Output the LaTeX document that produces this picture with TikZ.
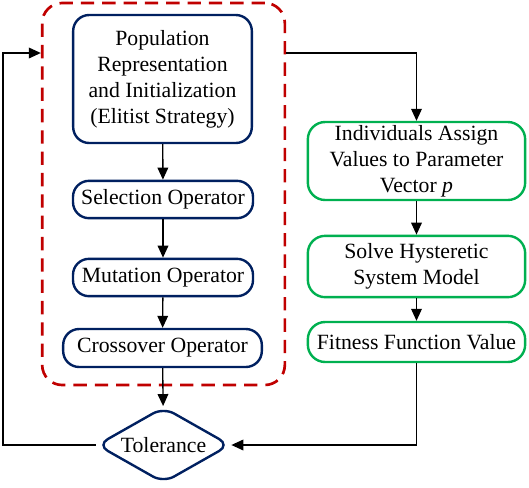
\documentclass[tikz,border=0pt]{standalone}
\usepackage{fontspec}
\setmainfont{Liberation Serif}
\usetikzlibrary{arrows.meta,shapes.geometric}
\definecolor{navyline}{RGB}{0,32,96}
\definecolor{greenline}{RGB}{0,176,80}
\definecolor{redline}{RGB}{192,0,0}
\tikzset{
  gastep/.style={draw=navyline,line width=1.8pt,rounded corners=12pt,align=center,inner sep=2pt},
  evalstep/.style={draw=greenline,line width=1.8pt,rounded corners=13pt,align=center,inner sep=2pt,minimum width=163pt},
  gabox/.style={draw=redline,line width=2pt,dash pattern=on 10pt off 6pt,rounded corners=15pt,minimum width=182pt,minimum height=286.5pt},
  arr/.style={-{Triangle[length=9pt,width=8pt]},line width=1pt},
}

\begin{document}
\begin{tikzpicture}[x=0.75pt,y=-0.75pt,font=\fontsize{16.3}{19.5}\selectfont]
        \useasboundingbox (0,0) rectangle (529,487);
        % genetic operators
        \node[gabox] (ga) at (163.5,194) {};
        \node[gastep,minimum width=134pt,minimum height=96pt] (pop) at (162.5,79)
          {Population\\Representation\\and Initialization\\(Elitist Strategy)};
        \node[gastep,minimum width=135pt,minimum height=28pt] (sel) at (163,199.5) {Selection Operator};
        \node[gastep,minimum width=135pt,minimum height=28pt] (mut) at (163,277.5) {Mutation Operator};
        \node[gastep,minimum width=149pt,minimum height=28.5pt] (cro) at (162.5,348) {Crossover Operator};
        \node[draw=navyline,line width=1.8pt,diamond,aspect=1.75,inner sep=1pt,rounded corners=9pt,
          minimum width=100pt,minimum height=57pt] (tol) at (163.5,445) {Tolerance};
        % evaluation
        \node[evalstep,minimum height=58.5pt] (ind) at (416.5,161)
          {Individuals Assign\\Values to Parameter\\Vector \textit{p}};
        \node[evalstep,minimum height=46pt] (sol) at (416.5,266.5) {Solve Hysteretic\\System Model};
        \node[evalstep,minimum height=30pt] (fit) at (416.5,342) {Fitness Function Value};
        \coordinate (loop) at (3,53);
        \draw[arr] (pop) -- (sel);
        \draw[arr] (sel) -- (mut);
        \draw[arr] (mut) -- (cro);
        \draw[arr] (cro) -- (tol);
        \draw[arr] (ga.east |- loop) -| (ind);
        \draw[arr] (ind) -- (sol);
        \draw[arr] (sol) -- (fit);
        \draw[arr] (fit) |- (tol);
        \draw[arr] (tol) -| (loop) -- (loop -| ga.west);
      \end{tikzpicture}
\end{document}
